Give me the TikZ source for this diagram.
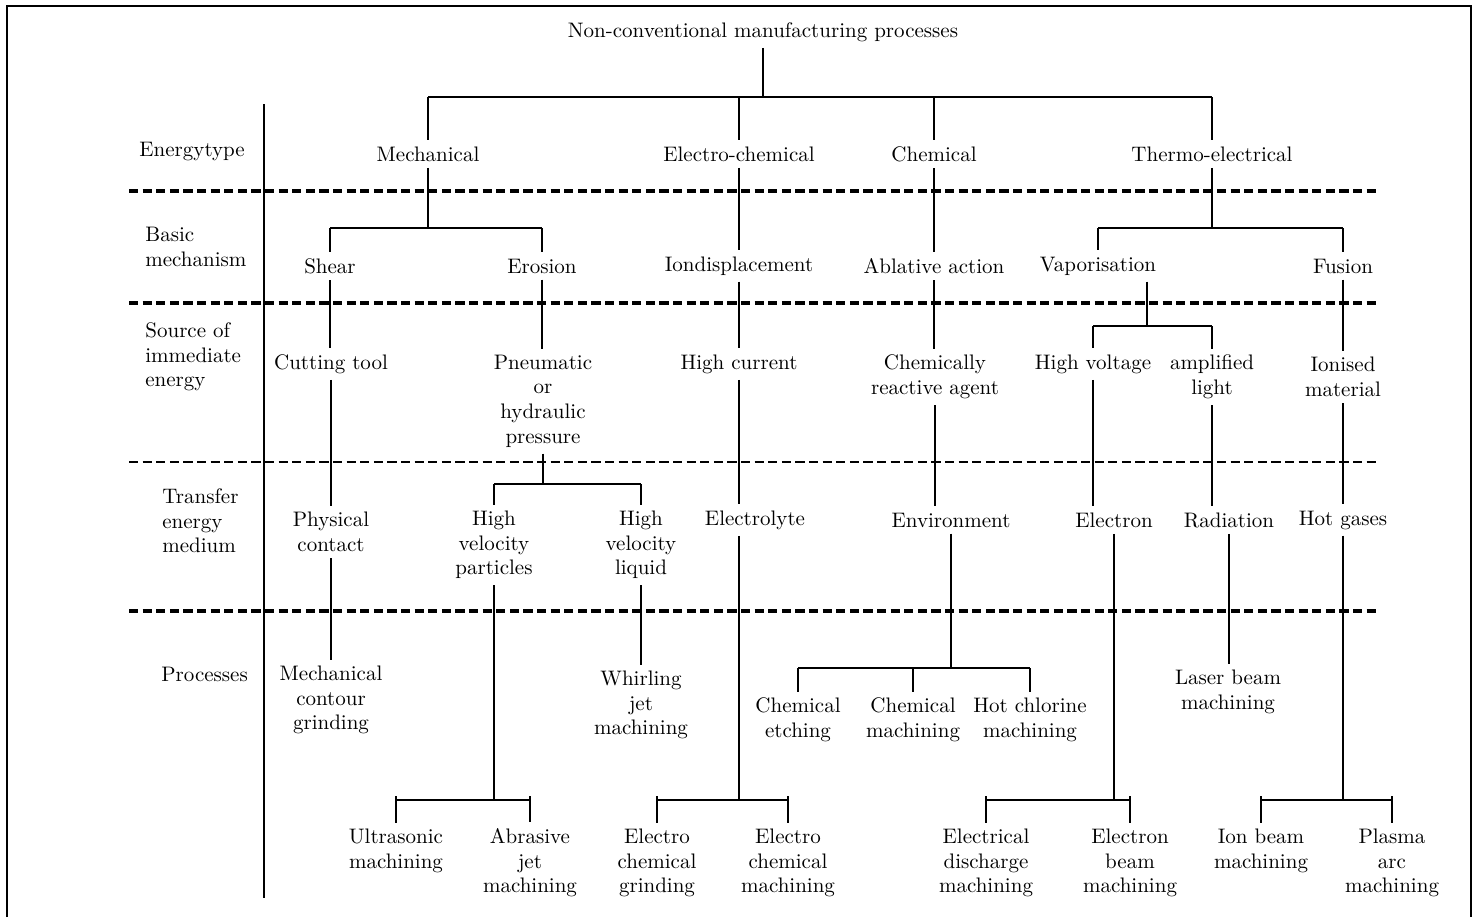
\documentclass[tikz,border=0pt]{standalone}
\begin{document}
\tikzset{
 txt/.style={font=\fontsize{10.5}{12.3}\selectfont, align=center, inner xsep=1pt, inner ysep=3pt},
 tree/.style={line width=0.75pt},
 thickdash/.style={line width=1.6pt, dash pattern=on 4.6pt off 2.2pt},
 thindash/.style={line width=0.8pt, dash pattern=on 4.6pt off 2.2pt},
 frameline/.style={line width=1.3pt},
 sepline/.style={line width=0.8pt},
 rowlbl/.style={txt, anchor=west, align=left}
}
\begin{tikzpicture}[x=0.5pt,y=-0.5pt]
\useasboundingbox (0,0) rectangle (1477,917);
% frame
\draw[frameline] (7,917) -- (7,6) -- (1471,6) -- (1471,917);
% band separators
\draw[thickdash] (129,191) -- (1378,191);
\draw[thickdash] (129,303) -- (1378,303);
\draw[thindash] (129,462) -- (1378,462);
\draw[thickdash] (129,611) -- (1378,611);
\draw[sepline] (264,104) -- (264,898);
% row labels
\node[rowlbl] (lEnergy) at (137,152) {Energytype};
\node[rowlbl] (lBasic) at (143,247) {Basic\\mechanism};
\node[rowlbl] (lSource) at (143,357) {Source of\\immediate\\energy};
\node[rowlbl] (lTransfer) at (160,521) {Transfer\\energy\\medium};
\node[rowlbl] (lProc) at (159,674) {Processes};
% level 0/1
\node[txt] (title) at (763,32) {Non-conventional manufacturing processes};
\node[txt] (mech) at (428,154) {Mechanical};
\node[txt] (ec) at (739,154) {Electro-chemical};
\node[txt] (chem) at (934,154) {Chemical};
\node[txt] (thermo) at (1212,154) {Thermo-electrical};
% level 2
\node[txt] (shear) at (330,266) {Shear};
\node[txt] (eros) at (542,266) {Erosion};
\node[txt] (iond) at (739,266) {Iondisplacement};
\node[txt] (abl) at (934,266) {Ablative action};
\node[txt] (vap) at (1098,266) {Vaporisation};
\node[txt] (fus) at (1343,266) {Fusion};
% level 3
\node[txt] (ct) at (331,364) {Cutting tool};
\node[txt] (pneu) at (543,401) {Pneumatic\\or\\hydraulic\\pressure};
\node[txt] (hc) at (739,364) {High current};
\node[txt] (cra) at (935,377) {Chemically\\reactive agent};
\node[txt] (hv) at (1093,364) {High voltage};
\node[txt] (amp) at (1212,377) {amplified\\light};
\node[txt] (ionm) at (1343,377) {Ionised\\material};
% level 4
\node[txt] (pc) at (331,532) {Physical\\contact};
\node[txt] (hvp) at (494,545) {High\\velocity\\particles};
\node[txt] (hvl) at (641,545) {High\\velocity\\liquid};
\node[txt] (el) at (755,520) {Electrolyte};
\node[txt] (env) at (951,520) {Environment};
\node[txt] (elec) at (1114,520) {Electron};
\node[txt] (rad) at (1229,520) {Radiation};
\node[txt] (hg) at (1343,520) {Hot gases};
% level 5
\node[txt] (mcg) at (331,700) {Mechanical\\contour\\grinding};
\node[txt] (wjm) at (641,705) {Whirling\\jet\\machining};
\node[txt] (cet) at (798,720) {Chemical\\etching};
\node[txt] (cm) at (913,720) {Chemical\\machining};
\node[txt] (hcm) at (1030,720) {Hot chlorine\\machining};
\node[txt] (lbm) at (1228,692) {Laser beam\\machining};
\node[txt] (usm) at (396,851) {Ultrasonic\\machining};
\node[txt] (ajm) at (530,863) {Abrasive\\jet\\machining};
\node[txt] (ecg) at (657,863) {Electro\\chemical\\grinding};
\node[txt] (ecm) at (788,863) {Electro\\chemical\\machining};
\node[txt] (edm) at (986,863) {Electrical\\discharge\\machining};
\node[txt] (ebm) at (1130,863) {Electron\\beam\\machining};
\node[txt] (ibm) at (1261,851) {Ion beam\\machining};
\node[txt] (pam) at (1392,863) {Plasma\\arc\\machining};
% bar levels
\coordinate (b0) at (763,97);
\coordinate (b1) at (0,228);
\coordinate (vj) at (1147,326);
\coordinate (b3) at (0,484);
\coordinate (b5) at (0,668);
\coordinate (b4) at (0,800);
\coordinate (b4t) at (0,796);
% connectors level 0 -> 1
\draw[tree] (title.south) -- (b0);
\draw[tree] (mech.north |- b0) -- (thermo.north |- b0);
\foreach \n in {mech,ec,chem,thermo} \draw[tree] (\n.north |- b0) -- (\n.north);
% level 1 -> 2
\draw[tree] (mech.south) -- (mech.south |- b1);
\draw[tree] (shear.north |- b1) -- (eros.north |- b1);
\foreach \n in {shear,eros} \draw[tree] (\n.north |- b1) -- (\n.north);
\draw[tree] (ec.south) -- (ec.south |- iond.north);
\draw[tree] (chem.south) -- (chem.south |- abl.north);
\draw[tree] (thermo.south) -- (thermo.south |- b1);
\draw[tree] (vap.north |- b1) -- (fus.north |- b1);
\foreach \n in {vap,fus} \draw[tree] (\n.north |- b1) -- (\n.north);
% level 2 -> 3
\draw[tree] (shear.south) -- (shear.south |- ct.north);
\draw[tree] (eros.south) -- (eros.south |- pneu.north);
\draw[tree] (iond.south) -- (iond.south |- hc.north);
\draw[tree] (abl.south) -- (abl.south |- cra.north);
\draw[tree] (vap.south -| vj) -- (vj);
\draw[tree] (hv.north |- vj) -- (amp.north |- vj);
\foreach \n in {hv,amp} \draw[tree] (\n.north |- vj) -- (\n.north);
\draw[tree] (fus.south) -- (fus.south |- ionm.north);
% level 3 -> 4
\draw[tree] (ct.south) -- (ct.south |- pc.north);
\draw[tree] (pneu.south) -- (pneu.south |- b3);
\draw[tree] (hvp.north |- b3) -- (hvl.north |- b3);
\foreach \n in {hvp,hvl} \draw[tree] (\n.north |- b3) -- (\n.north);
\draw[tree] (hc.south) -- (hc.south |- el.north);
\draw[tree] (cra.south) -- (cra.south |- env.north);
\draw[tree] (hv.south) -- (hv.south |- elec.north);
\draw[tree] (amp.south) -- (amp.south |- rad.north);
\draw[tree] (ionm.south) -- (ionm.south |- hg.north);
% level 4 -> 5
\draw[tree] (pc.south) -- (pc.south |- mcg.north);
\draw[tree] (hvp.south) -- (hvp.south |- b4);
\draw[tree] (usm.north |- b4) -- (ajm.north |- b4);
\draw[tree] (hvl.south) -- (hvl.south |- wjm.north);
\draw[tree] (el.south -| hc.south) -- (hc.south |- b4);
\draw[tree] (ecg.north |- b4) -- (ecm.north |- b4);
\draw[tree] (env.south) -- (env.south |- b5);
\draw[tree] (cet.north |- b5) -- (hcm.north |- b5);
\foreach \n in {cet,cm,hcm} \draw[tree] (\n.north |- b5) -- (\n.north);
\draw[tree] (elec.south) -- (elec.south |- b4);
\draw[tree] (edm.north |- b4) -- (ebm.north |- b4);
\draw[tree] (rad.south) -- (rad.south |- lbm.north);
\draw[tree] (hg.south) -- (hg.south |- b4);
\draw[tree] (ibm.north |- b4) -- (pam.north |- b4);
\foreach \n in {usm,ajm,ecg,ecm,edm,ebm,ibm,pam} \draw[tree] (\n.north |- b4t) -- (\n.north);
\end{tikzpicture}
\end{document}
